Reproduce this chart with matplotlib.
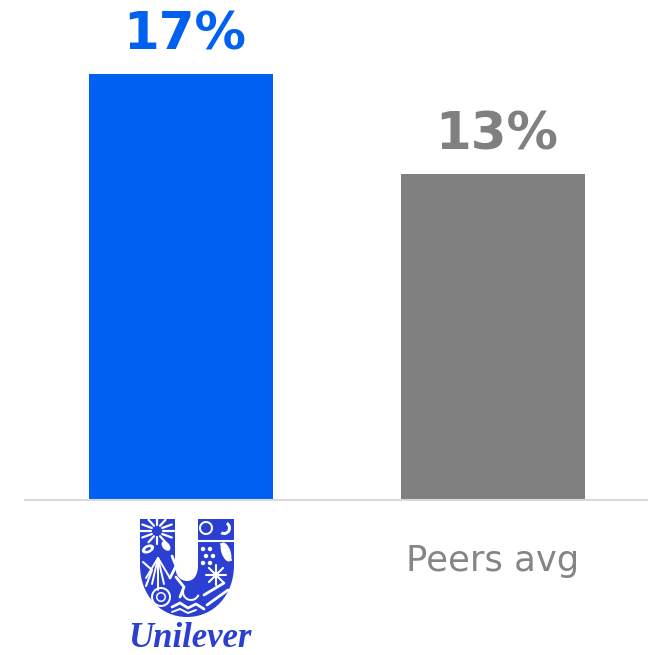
import matplotlib
matplotlib.use('Agg')
from matplotlib import pyplot as plt
from matplotlib.patches import Circle, Ellipse, PathPatch, Wedge
from matplotlib.path import Path
import numpy as np

categories = ['Unilever', 'Peers avg']
values = [17, 13]
labels = ['17%', '13%']
bar_colors = ['#0060F0', '#808080']
logo_color = '#2B3FD2'

W, H = 656, 655
fig = plt.figure(figsize=(W / 100, H / 100), dpi=100)

# plot area runs from the top edge down to the baseline
ax = fig.add_axes([24 / W, (H - 499) / H, 624 / W, 499 / H])
ax.bar(range(len(values)), values, width=0.59, color=bar_colors)
ax.set_xlim(-0.503, 1.497)
ax.set_ylim(0, 19.96)
for s in ['top', 'left', 'right']:
    ax.spines[s].set_visible(False)
ax.spines['bottom'].set_color('#D9D9D9')
ax.spines['bottom'].set_linewidth(1.5)
ax.spines['bottom'].set_capstyle('butt')
ax.spines['bottom'].set_position(('outward', 0.75))
ax.set_xticks([])
ax.set_yticks([])

for i in range(len(values)):
    ax.annotate(labels[i], (i, values[i]), xytext=(4, 25), textcoords='offset pixels',
                ha='center', va='baseline', fontsize=37, fontweight='bold',
                family='DejaVu Sans', color=bar_colors[i])

ax.annotate(categories[1], (1, 0), xytext=(0, -72), textcoords='offset pixels',
            ha='center', va='baseline', fontsize=25.5, family='DejaVu Sans', color='#858585')

# logo layer uses pixel coordinates, y pointing down
logo = fig.add_axes([0, 0, 1, 1])
logo.set_xlim(0, W)
logo.set_ylim(H, 0)
logo.axis('off')
logo.patch.set_alpha(0)

codes = [Path.MOVETO, Path.LINETO, Path.CURVE4, Path.CURVE4, Path.CURVE4,
         Path.CURVE4, Path.CURVE4, Path.CURVE4, Path.LINETO, Path.LINETO,
         Path.LINETO, Path.CURVE4, Path.CURVE4, Path.CURVE4, Path.CURVE4,
         Path.CURVE4, Path.CURVE4, Path.LINETO, Path.CLOSEPOLY]
verts = [(140, 519), (140, 565), (140, 595), (160, 617), (187, 617),
         (214, 617), (234, 595), (234, 565), (234, 519), (198, 519),
         (198, 565), (198, 575), (194, 581), (187, 581), (180, 581),
         (175, 575), (175, 565), (175, 519), (140, 519)]
logo.add_patch(PathPatch(Path(verts, codes), fc=logo_color, ec='none'))


def white_line(xs, ys, lw=1.6):
    logo.plot(xs, ys, color='white', lw=lw, solid_capstyle='round')


# sunburst, top of the left arm
for a in np.arange(0, 360, 30):
    r = np.radians(a)
    white_line([157 + 6 * np.cos(r), 157 + 17 * np.cos(r)],
               [531 + 6 * np.sin(r), 531 + 13 * np.sin(r)])

# crescent and sun, top of the right arm
logo.add_patch(Wedge((206, 528), 7, 0, 360, width=2, fc='white', ec='none'))
logo.add_patch(Wedge((224, 528), 7, 300, 120, width=3, fc='white', ec='none'))
white_line([198, 234], [541, 541], lw=1.5)

# fish and leaf shapes on the left arm
logo.add_patch(Ellipse((148, 549), 13, 8, angle=-25, fc='white', ec='none'))
logo.add_patch(Ellipse((148, 549), 6, 3, angle=-25, fc=logo_color, ec='none'))
logo.add_patch(Ellipse((166, 546), 11, 7, angle=50, fc='white', ec='none'))
for dx in [-12, -6, 0, 6, 12]:
    white_line([158, 158 + dx], [558, 590 - abs(dx)], lw=1.4)
white_line([143, 152, 146], [562, 570, 586], lw=1.5)
white_line([172, 176, 170], [556, 566, 578], lw=2)

# swirl at the base of the U
logo.add_patch(Wedge((161, 597), 10, 0, 360, width=2, fc='white', ec='none'))
logo.add_patch(Wedge((161, 597), 5, 0, 360, width=1.5, fc='white', ec='none'))
logo.add_patch(Wedge((191, 592), 9, 20, 200, width=2, fc='white', ec='none'))
white_line([172, 180, 188, 196, 204], [607, 603, 608, 604, 609], lw=2)
white_line([172, 180, 188, 196], [612, 609, 613, 610], lw=1.4)
white_line([176, 184, 180], [577, 587, 597], lw=2)

# grapes, leaf and flower on the right arm
for gx, gy in [(203, 549), (210, 549), (206, 556), (213, 556), (203, 563), (210, 563)]:
    logo.add_patch(Circle((gx, gy), 2.2, fc='white', ec='none'))
logo.add_patch(Ellipse((226, 552), 9, 20, angle=-20, fc='white', ec='none'))
white_line([221, 231], [544, 560], lw=1.5)
for a in np.arange(0, 360, 45):
    r = np.radians(a)
    white_line([216, 216 + 10 * np.cos(r)], [575, 575 + 10 * np.sin(r)], lw=1.5)
white_line([204, 224], [595, 583], lw=2)
white_line([207, 228], [605, 590], lw=2)

logo.text(190, 647, categories[0], ha='center', va='baseline', fontsize=25,
          family='Liberation Serif', style='italic', fontweight='bold', color=logo_color)

fig.savefig('out.png', dpi=100)
